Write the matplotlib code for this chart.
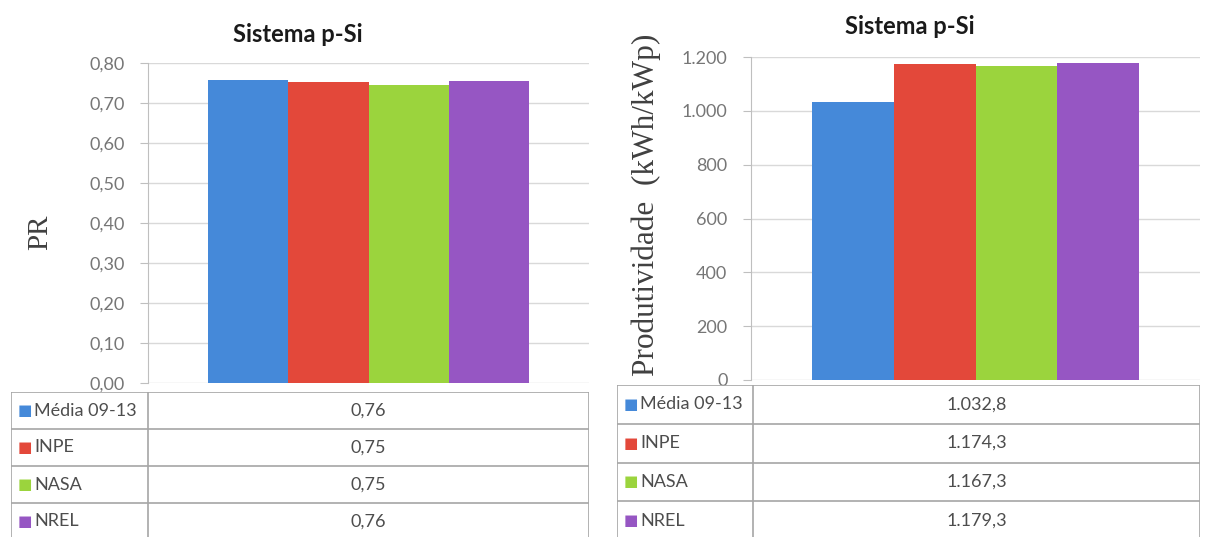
import matplotlib
matplotlib.use('Agg')
import matplotlib.pyplot as plt

# dados
series = ['Média 09-13', 'INPE', 'NASA', 'NREL']
colors = ['#4589d9', '#e3483a', '#9bd43d', '#9656c3']
pr_values = [0.758, 0.752, 0.746, 0.756]
prod_values = [1032.8, 1174.3, 1167.3, 1179.3]
pr_ticks = [0.0, 0.1, 0.2, 0.3, 0.4, 0.5, 0.6, 0.7, 0.8]
prod_ticks = [0, 200, 400, 600, 800, 1000, 1200]

plt.rcParams['font.family'] = ['Lato', 'DejaVu Sans']

W, H = 1208, 537
fig = plt.figure(figsize=(W / 100, H / 100), dpi=100)


def fmt_pt(v, dec):
    s = f'{v:,.{dec}f}'
    return s.replace(',', 'X').replace('.', ',').replace('X', '.')


def box(x0, y0, x1, y1):
    # pixel box -> figure coords
    return [x0 / W, 1 - y1 / H, (x1 - x0) / W, (y1 - y0) / H]


def bar_panel(rect, values, ticks, dec, ylabel, ylabel_x, ylabel_y, ylabel_size):
    ax = fig.add_axes(rect)
    n = len(values)
    w = 0.73 / n
    for i, v in enumerate(values):
        ax.bar((i - (n - 1) / 2) * w, v, width=w, color=colors[i], zorder=3)
    ax.set_xlim(-0.5, 0.5)
    ax.set_ylim(ticks[0], ticks[-1])
    ax.set_yticks(ticks)
    ax.set_yticklabels([fmt_pt(t, dec) for t in ticks])
    ax.set_xticks([])
    ax.grid(axis='y', color='#d9d9d9', lw=1, zorder=0)
    for s in ['top', 'right', 'bottom']:
        ax.spines[s].set_visible(False)
    ax.spines['left'].set_color('#bfbfbf')
    ax.tick_params(axis='y', length=6, color='#bfbfbf', pad=11,
                   labelsize=13, labelcolor='#767676')
    fig.text(ylabel_x / W, 1 - ylabel_y / H, ylabel, rotation=90,
             ha='center', va='center', fontsize=ylabel_size, color='#404040',
             family='Liberation Serif')
    return ax


def table_panel(rect, values, dec, split):
    ax = fig.add_axes(rect)
    ax.set_xlim(0, 1)
    ax.set_ylim(len(values), 0)
    ax.axis('off')
    for r in range(len(values) + 1):
        ax.axhline(r, color='#a6a6a6', lw=1.2)
    for xv in [0, split, 1]:
        ax.axvline(xv, color='#a6a6a6', lw=1.2)
    for i, v in enumerate(values):
        ax.text(0.012, i + 0.5, '■', color=colors[i], fontsize=11,
                ha='left', va='center', family='DejaVu Sans')
        ax.text(0.04, i + 0.5, series[i], color='#4d4d4d', fontsize=13,
                ha='left', va='center')
        ax.text((split + 1) / 2, i + 0.5, fmt_pt(v, dec), color='#4d4d4d',
                fontsize=13, ha='center', va='center')
    return ax


# painel esquerdo (PR)
bar_panel(box(148, 63, 589, 383), pr_values, pr_ticks, 2, 'PR', 40, 232, 21)
table_panel(box(11, 392, 589, 540), pr_values, 2, (148 - 11) / (589 - 11))
fig.text(298 / W, 1 - 35 / H, 'Sistema p-Si', ha='center', va='center',
         fontsize=17, fontweight='bold', color='#1a1a1a')

# painel direito (Produtividade)
bar_panel(box(751, 57, 1200, 380), prod_values, prod_ticks, 0,
          'Produtividade  (kWh/kWp)', 646, 205, 22.5)
table_panel(box(617, 385, 1200, 540), prod_values, 1, (753 - 617) / (1200 - 617))
fig.text(910 / W, 1 - 26 / H, 'Sistema p-Si', ha='center', va='center',
         fontsize=17, fontweight='bold', color='#1a1a1a')

fig.savefig('out.png', dpi=100)
